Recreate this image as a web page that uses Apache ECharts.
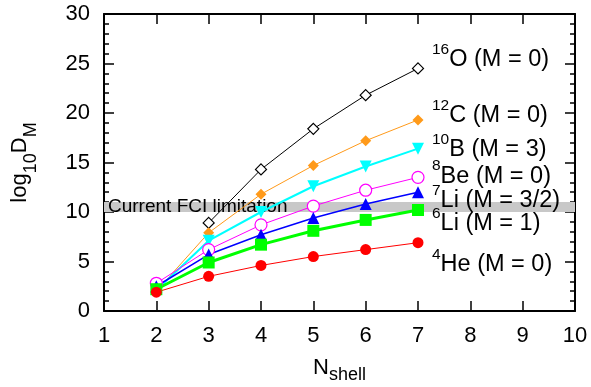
<!DOCTYPE html>
<html>
<head>
<meta charset="utf-8">
<script src="https://cdn.jsdelivr.net/npm/echarts@6/dist/echarts.min.js"></script>
<style>html,body{margin:0;padding:0;background:#fff;}#c{width:591px;height:387px;}</style>
</head>
<body>
<div id="c"></div>
<script>
// ---- data ----
const nShell = [2, 3, 4, 5, 6, 7];
const he4 = [1.9, 3.5, 4.6, 5.5, 6.2, 6.9];
const li6 = [2.2, 4.9, 6.7, 8.1, 9.2, 10.2];
const li7 = [2.5, 5.7, 7.7, 9.4, 10.8, 12.0];
const be8 = [2.8, 6.2, 8.7, 10.6, 12.2, 13.5];
const b10 = [2.1, 7.1, 10.0, 12.6, 14.6, 16.4];
const c12 = [2.0, 7.9, 11.8, 14.7, 17.2, 19.3];
const o16 = [null, 8.9, 14.3, 18.4, 21.8, 24.5];
const fciLimit = [10, 11];
const fciText = 'Current FCI limitation';
const labelSup = ['16', '12', '10', '8', '7', '6', '4'];
const labelMain = ['O (M = 0)', 'C (M = 0)', 'B (M = 3)', 'Be (M = 0)', 'Li (M = 3/2)', 'Li (M = 1)', 'He (M = 0)'];
const xTicks = [1, 10, 1];
const yTicks = [0, 30, 5];

const FONT = 'Liberation Sans, Arial, Helvetica, sans-serif';
function pairs(vals) { return nShell.map((x, i) => [x, vals[i]]); }

const labelY = [60, 116, 150, 176.7, 201, 224, 265];
const LBL_LH = 37;

const chart = echarts.init(document.getElementById('c'), null, {renderer: 'canvas'});

function mkSeries(name, vals, color, symbol, size, lw, filled, rotate) {
  return {
    name, type: 'line', data: pairs(vals),
    xAxisIndex: 0, yAxisIndex: 0,
    symbol, symbolSize: size, symbolRotate: rotate || 0,
    showAllSymbol: true, connectNulls: false,
    lineStyle: {color, width: lw},
    itemStyle: filled ? {color, borderColor: color, borderWidth: 0} : {color: '#fff', borderColor: color, borderWidth: 1.2},
    z: 3
  };
}

const series = [
  mkSeries('16O', o16, '#000000', 'diamond', 11, 1, false),
  mkSeries('12C', c12, '#ff9a1a', 'diamond', 11, 1, true),
  mkSeries('10B', b10, '#00ffff', 'triangle', 12, 2, true, 180),
  mkSeries('8Be', be8, '#ff00ff', 'circle', 12, 1, false),
  mkSeries('7Li', li7, '#0000ff', 'triangle', 12, 1.5, true),
  mkSeries('6Li', li6, '#00ff00', 'rect', 12, 3, true),
  mkSeries('4He', he4, '#ff0000', 'circle', 11, 1, true)
];
series[0].markArea = {
  silent: true,
  itemStyle: {color: '#c8c8c8'},
  label: {show: true, position: 'insideLeft', distance: 4, color: '#000', fontSize: 19, fontFamily: FONT},
  data: [[{name: fciText, yAxis: fciLimit[0]}, {yAxis: fciLimit[1]}]]
};

const axisLineStyle = {color: '#000', width: 2};
const tickStyle = {color: '#000', width: 1.5};

const option = {
  animation: false,
  backgroundColor: '#fff',
  grid: {left: 104, right: 16, top: 14, bottom: 76, containLabel: false, outerBoundsMode: 'none'},
  xAxis: [
    {type: 'value', min: xTicks[0], max: xTicks[1], interval: xTicks[2], position: 'bottom',
     name: 'N{sub|shell}', nameLocation: 'middle', nameGap: 40,
     nameTextStyle: {color: '#000', fontSize: 22, fontFamily: FONT, lineHeight: 32,
       rich: {sub: {fontSize: 18, fontFamily: FONT, lineHeight: 14, verticalAlign: 'bottom', color: '#000'}}},
     axisLine: {show: true, onZero: false, lineStyle: axisLineStyle},
     axisTick: {show: true, inside: true, length: 10, lineStyle: tickStyle},
     axisLabel: {color: '#000', fontSize: 22, fontFamily: FONT, margin: 14},
     splitLine: {show: false}},
    {type: 'value', min: xTicks[0], max: xTicks[1], interval: xTicks[2], position: 'top',
     axisLine: {show: true, onZero: false, lineStyle: axisLineStyle},
     axisTick: {show: true, inside: true, length: 10, lineStyle: tickStyle},
     axisLabel: {show: false}, splitLine: {show: false}}
  ],
  yAxis: [
    {type: 'value', min: yTicks[0], max: yTicks[1], interval: yTicks[2], position: 'left',
     name: 'log{sub|10}D{sub|M}', nameLocation: 'middle', nameGap: 64, nameRotate: 90,
     nameTextStyle: {color: '#000', fontSize: 22, fontFamily: FONT, lineHeight: 40,
       rich: {sub: {fontSize: 18, fontFamily: FONT, lineHeight: 14, verticalAlign: 'bottom', color: '#000'}}},
     axisLine: {show: true, onZero: false, lineStyle: axisLineStyle},
     axisTick: {show: true, inside: true, length: 10, lineStyle: tickStyle},
     minorTick: {show: true, splitNumber: 5, length: 5, lineStyle: tickStyle},
     axisLabel: {color: '#000', fontSize: 22, fontFamily: FONT, margin: 14},
     splitLine: {show: false}, minorSplitLine: {show: false}},
    {type: 'value', min: yTicks[0], max: yTicks[1], interval: yTicks[2], position: 'right',
     axisLine: {show: true, onZero: false, lineStyle: axisLineStyle},
     axisTick: {show: true, inside: true, length: 10, lineStyle: tickStyle},
     minorTick: {show: true, splitNumber: 5, length: 5, lineStyle: tickStyle},
     axisLabel: {show: false}, splitLine: {show: false}, minorSplitLine: {show: false}}
  ],
  series,
  graphic: labelSup.map((s, i) => ({
    type: 'text', left: 432, top: labelY[i] - LBL_LH / 2, z: 10,
    style: {
      text: '{s|' + s + '}{m|' + labelMain[i] + '}',
      fill: '#000',
      rich: {
        s: {fontSize: 15.5, fontFamily: FONT, lineHeight: 15, verticalAlign: 'top', fill: '#000'},
        m: {fontSize: 23.5, fontFamily: FONT, lineHeight: LBL_LH, verticalAlign: 'middle', fill: '#000'}
      }
    }
  }))
};
chart.setOption(option);
</script>
</body>
</html>
